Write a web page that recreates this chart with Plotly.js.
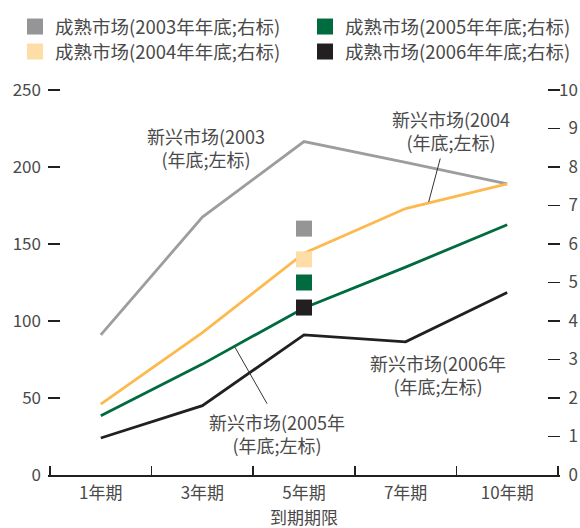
<!DOCTYPE html>
<html>
<head>
<meta charset="utf-8">
<script src="https://cdn.plot.ly/plotly-3.0.1.min.js"></script>
<style>html,body{margin:0;padding:0;background:#fff;}</style>
</head>
<body>
<div id="chart" style="width:580px;height:528px;"></div>
<script>
// ---- data ----
var categories = ['1年期', '3年期', '5年期', '7年期', '10年期'];
var emerging2003 = [91, 167.5, 216.5, 203, 189];
var emerging2004 = [46, 92.5, 144, 173, 189];
var emerging2005 = [38.5, 72, 108.5, 135, 162.5];
var emerging2006 = [24, 45, 91, 86.5, 118.5];
var matureCategory = ['5年期'];
var mature2003 = [6.4];
var mature2004 = [5.6];
var mature2005 = [5.0];
var mature2006 = [4.35];
var leftTickVals = [0, 50, 100, 150, 200, 250];
var rightTickVals = [0, 1, 2, 3, 4, 5, 6, 7, 8, 9, 10];
var rightTickText = ['\u20070', '\u20071', '\u20072', '\u20073', '\u20074', '\u20075', '\u20076', '\u20077', '\u20078', '\u20079', '10'];
var matureNames = ['成熟市场(2003年年底;右标)', '成熟市场(2004年年底;右标)', '成熟市场(2005年年底;右标)', '成熟市场(2006年年底;右标)'];
var xTitle = '到期期限';

var FONT = '"Noto Sans CJK SC", "Noto Sans", sans-serif';
var TXT = '#4a4a4a';
var DARK = '#231f20';

// small padding so the end ticks are not clipped (2px each side)
var LEFT_MAX = 250 + 2 / 1.54;
var RIGHT_MAX = 10 + 2 / 38.5;
var XPAD = 2 / 101.6;

function lineTrace(y, color) {
  return {x: categories, y: y, type: 'scatter', mode: 'lines', showlegend: false,
          line: {color: color, width: 2.8}, hoverinfo: 'skip', xaxis: 'x', yaxis: 'y3'};
}
function markTrace(y, name, color, legend) {
  return {x: matureCategory, y: y, name: name, type: 'scatter', mode: 'markers',
          marker: {symbol: 'square', size: 16, color: color}, xaxis: 'x2', yaxis: 'y2', legend: legend};
}

var data = [
  lineTrace(emerging2003, '#9d9d9f'),
  lineTrace(emerging2004, '#fdb94e'),
  lineTrace(emerging2005, '#006b3f'),
  lineTrace(emerging2006, DARK),
  markTrace(mature2003, matureNames[0], '#959598', 'legend'),
  markTrace(mature2004, matureNames[1], '#fedda6', 'legend2'),
  markTrace(mature2005, matureNames[2], '#006b3f', 'legend3'),
  markTrace(mature2006, matureNames[3], DARK, 'legend4')
];

function note(text, x, y) {
  return {text: text, x: x, y: y, xref: 'x', yref: 'y', showarrow: false,
          align: 'center', font: {family: FONT, size: 18, color: TXT}};
}
function pointer(x, y, ax, ay) {
  return {text: '', x: x, y: y, xref: 'x', yref: 'y', showarrow: true, arrowhead: 0,
          arrowwidth: 1, arrowcolor: '#333', ax: ax, ay: ay, standoff: 0, startstandoff: 0};
}

function legendAt(px, py) {
  return {
    orientation: 'v', xref: 'container', yref: 'container', xanchor: 'left', yanchor: 'top',
    x: px / 580, y: 1 - py / 528,
    font: {family: FONT, size: 18.5, color: TXT}, bgcolor: 'rgba(0,0,0,0)'
  };
}

var tickFont = {family: FONT, size: 17, color: TXT};

var layout = {
  width: 580, height: 528,
  margin: {l: 48, r: 20, t: 88, b: 53, pad: 0, autoexpand: false},
  paper_bgcolor: '#fff', plot_bgcolor: 'rgba(0,0,0,0)',
  font: {family: FONT, size: 17, color: TXT},
  showlegend: true,
  legend: legendAt(15, 8),
  legend2: legendAt(15, 33),
  legend3: legendAt(305, 8),
  legend4: legendAt(305, 33),
  xaxis: {
    type: 'category', categoryorder: 'array', categoryarray: categories,
    range: [-0.5 - XPAD, 4.5 + XPAD], showline: true, linecolor: DARK, linewidth: 1.5,
    ticks: '', showgrid: false, zeroline: false, ticklabelstandoff: 2, automargin: false,
    tickfont: tickFont
  },
  xaxis2: {
    type: 'category', categoryorder: 'array', categoryarray: categories, overlaying: 'x',
    anchor: 'y', side: 'bottom',
    range: [-0.5 - XPAD, 4.5 + XPAD], showline: false, showticklabels: false,
    ticks: 'inside', tickson: 'boundaries', ticklen: 9, tickwidth: 1.5, tickcolor: DARK,
    showgrid: false, zeroline: false, automargin: false
  },
  yaxis: {
    range: [0, LEFT_MAX], tickvals: leftTickVals, showline: false, showgrid: false, zeroline: false,
    ticks: '', ticklabelstandoff: 6, automargin: false, tickfont: tickFont
  },
  yaxis3: {
    range: [0, LEFT_MAX], tickvals: leftTickVals, overlaying: 'y', side: 'left', anchor: 'x',
    showline: false, showgrid: false, zeroline: false, showticklabels: false,
    ticks: 'inside', ticklen: 12, tickwidth: 1.5, tickcolor: DARK, automargin: false
  },
  yaxis2: {
    range: [0, RIGHT_MAX], overlaying: 'y', side: 'right', anchor: 'x',
    tickvals: rightTickVals, ticktext: rightTickText,
    showline: false, showgrid: false, zeroline: false, automargin: false,
    ticks: 'inside', ticklen: 12, tickwidth: 1.5, tickcolor: DARK, ticklabelstandoff: -2,
    tickfont: tickFont
  },
  annotations: [
    {text: xTitle, xref: 'paper', yref: 'paper', x: 0.5, y: (475 - 516) / 387,
     xanchor: 'center', yanchor: 'middle', showarrow: false, borderpad: 0,
     font: {family: FONT, size: 17, color: TXT}},
    note('新兴市场(2003<br>(年底;左标)', 1.04, 212.6),
    note('新兴市场(2004<br>(年底;左标)', 3.45, 223.7),
    note('新兴市场(2005年<br>(年底;左标)', 1.73, 27),
    note('新兴市场(2006年<br>(年底;左标)', 3.32, 65.3),
    pointer(3.227, 177.3, 12, -45),
    pointer(1.32, 83, 33, 58)
  ]
};

Plotly.newPlot('chart', data, layout, {displayModeBar: false, staticPlot: true});
</script>
</body>
</html>
